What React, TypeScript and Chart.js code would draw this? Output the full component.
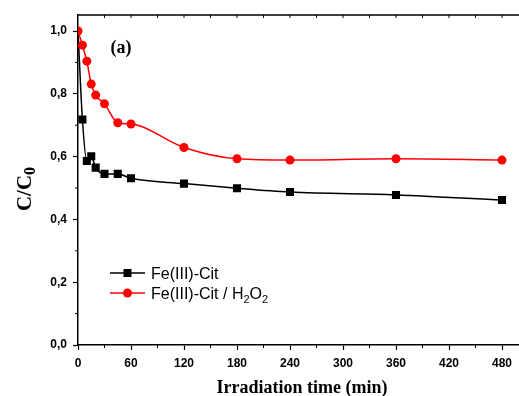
import { useEffect, useRef } from 'react';
import { Chart, registerables } from 'chart.js';
Chart.register(...registerables);

const times = [0, 5, 10, 15, 20, 30, 45, 60, 120, 180, 240, 360, 480];
const feCit = [1.0, 0.718, 0.586, 0.601, 0.565, 0.545, 0.545, 0.531, 0.514, 0.499, 0.487, 0.478, 0.462];
const feCitH2O2 = [1.0, 0.955, 0.904, 0.831, 0.796, 0.768, 0.708, 0.704, 0.629, 0.593, 0.589, 0.593, 0.589];
const xTicks = [0, 60, 120, 180, 240, 300, 360, 420, 480];
const xMinorTicks = [30, 90, 150, 210, 270, 330, 390, 450, 510];
const yTicks = [0, 0.2, 0.4, 0.6, 0.8, 1.0];
const yMinorTicks = [0.1, 0.3, 0.5, 0.7, 0.9];
const label1 = 'Fe(III)-Cit';
const label2Parts: [string, boolean][] = [['Fe(III)-Cit / H', false], ['2', true], ['O', false], ['2', true]];
const xTitle = 'Irradiation time (min)';
const yTitleMain = 'C/C';
const yTitleSub = '0';
const panelLabel = '(a)';

const SERIF = '"Liberation Serif", "Times New Roman", serif';
const SANS = '"Liberation Sans", Arial, sans-serif';
const W = 540;
const H = 396;

export default function App() {
  const ref = useRef<HTMLCanvasElement | null>(null);
  useEffect(() => {
    const canvas = ref.current!;
    const decor = {
      id: 'decor',
      afterDraw(chart: any) {
        const ctx = chart.ctx;
        const { left, right, top, bottom } = chart.chartArea;
        const xs = chart.scales.x;
        const ys = chart.scales.y;
        ctx.save();
        ctx.strokeStyle = '#000';
        ctx.lineWidth = 1.5;
        ctx.beginPath();
        ctx.moveTo(left, top);
        ctx.lineTo(right, top);
        ctx.lineTo(right, bottom);
        ctx.stroke();
        ctx.lineWidth = 1;
        ctx.beginPath();
        xMinorTicks.forEach((v) => {
          const px = xs.getPixelForValue(v);
          if (px > right) return;
          ctx.moveTo(px, bottom);
          ctx.lineTo(px, bottom + 3);
        });
        [...xTicks, ...xMinorTicks].forEach((v) => {
          const px = xs.getPixelForValue(v);
          if (px > right || px <= left + 1) return;
          ctx.moveTo(px, top);
          ctx.lineTo(px, top + 3);
        });
        yMinorTicks.forEach((v) => {
          const py = ys.getPixelForValue(v);
          ctx.moveTo(left, py);
          ctx.lineTo(left - 3, py);
        });
        ctx.stroke();

        ctx.fillStyle = '#000';
        ctx.font = `bold 18px ${SERIF}`;
        ctx.textAlign = 'center';
        ctx.textBaseline = 'middle';
        ctx.fillText(panelLabel, 121, 48);

        ctx.fillText(xTitle, 302, 388);

        ctx.save();
        ctx.translate(24, 189);
        ctx.rotate(-Math.PI / 2);
        ctx.font = `bold 21px ${SERIF}`;
        const mw = ctx.measureText(yTitleMain).width;
        ctx.font = `bold 16px ${SERIF}`;
        const sw = ctx.measureText(yTitleSub).width;
        const total = mw + sw;
        ctx.textAlign = 'left';
        ctx.textBaseline = 'alphabetic';
        ctx.font = `bold 21px ${SERIF}`;
        ctx.fillText(yTitleMain, -total / 2, 7);
        ctx.font = `bold 16px ${SERIF}`;
        ctx.fillText(yTitleSub, -total / 2 + mw, 11);
        ctx.restore();

        const lx0 = 110, lx1 = 145, lmid = 127.5, tx = 151;
        const ly1 = 273, ly2 = 293;
        ctx.lineWidth = 1.5;
        ctx.strokeStyle = '#000';
        ctx.beginPath();
        ctx.moveTo(lx0, ly1);
        ctx.lineTo(lx1, ly1);
        ctx.stroke();
        ctx.fillRect(lmid - 4, ly1 - 4, 8, 8);
        ctx.strokeStyle = '#ff0000';
        ctx.fillStyle = '#ff0000';
        ctx.beginPath();
        ctx.moveTo(lx0, ly2);
        ctx.lineTo(lx1, ly2);
        ctx.stroke();
        ctx.beginPath();
        ctx.arc(lmid, ly2, 4.5, 0, Math.PI * 2);
        ctx.fill();
        ctx.fillStyle = '#000';
        ctx.textAlign = 'left';
        ctx.textBaseline = 'alphabetic';
        ctx.font = `16px ${SANS}`;
        ctx.fillText(label1, tx, ly1 + 6);
        let cx = tx;
        label2Parts.forEach(([t, sub]) => {
          ctx.font = sub ? `11px ${SANS}` : `16px ${SANS}`;
          ctx.fillText(t, cx, ly2 + 6 + (sub ? 4 : 0));
          cx += ctx.measureText(t).width;
        });
        ctx.restore();
      },
    };

    const chart = new Chart(canvas, {
      type: 'line',
      data: {
        datasets: [
          {
            label: label2Parts.map((p) => p[0]).join(''),
            data: times.map((t, i) => ({ x: t, y: feCitH2O2[i] })),
            borderColor: '#ff0000',
            backgroundColor: '#ff0000',
            borderWidth: 1.5,
            pointStyle: 'circle',
            pointRadius: 4.5,
            pointBorderWidth: 0,
            cubicInterpolationMode: 'monotone',
            order: 0,
          },
          {
            label: label1,
            data: times.map((t, i) => ({ x: t, y: feCit[i] })),
            borderColor: '#000',
            backgroundColor: '#000',
            borderWidth: 1.5,
            pointStyle: 'rect',
            pointRadius: (c: any) => (c.dataIndex === 0 ? 0 : 5.7),
            pointBorderWidth: 0,
            cubicInterpolationMode: 'monotone',
            order: 1,
          },
        ],
      },
      options: {
        animation: false,
        responsive: false,
        events: [],
        layout: { padding: { top: 15, right: W - (78 + 510 * (424 / 480)), left: 0, bottom: 0 } },
        plugins: { legend: { display: false }, tooltip: { enabled: false } },
        scales: {
          x: {
            type: 'linear',
            min: 0,
            max: 510,
            afterFit: (s: any) => { s.height = H - 345; },
            afterBuildTicks: (s: any) => { s.ticks = xTicks.map((v) => ({ value: v })); },
            ticks: {
              color: '#000',
              font: { family: SANS, size: 12, weight: 'bold' },
              padding: 6,
              maxRotation: 0,
              autoSkip: false,
              callback: (v: any) => String(v),
            },
            grid: { display: true, drawOnChartArea: false, drawTicks: true, tickLength: 5, tickColor: '#000', tickWidth: 1.2 },
            border: { display: true, color: '#000', width: 1.5 },
          },
          y: {
            type: 'linear',
            min: 0,
            max: 1.051,
            afterFit: (s: any) => { s.width = 78; },
            afterBuildTicks: (s: any) => { s.ticks = yTicks.map((v) => ({ value: v })); },
            ticks: {
              color: '#000',
              font: { family: SANS, size: 12, weight: 'bold' },
              padding: 6,
              autoSkip: false,
              callback: (v: any) => Number(v).toFixed(1).replace('.', ','),
            },
            grid: { display: true, drawOnChartArea: false, drawTicks: true, tickLength: 5, tickColor: '#000', tickWidth: 1.2 },
            border: { display: true, color: '#000', width: 1.5 },
          },
        },
      },
      plugins: [decor],
    } as any);
    return () => chart.destroy();
  }, []);

  return (
    <div style={{ position: 'fixed', left: 0, top: 0, width: 519, height: 396, overflow: 'hidden', background: '#fff' }}>
      <canvas ref={ref} width={W} height={H} style={{ width: W, height: H, display: 'block' }} />
    </div>
  );
}
